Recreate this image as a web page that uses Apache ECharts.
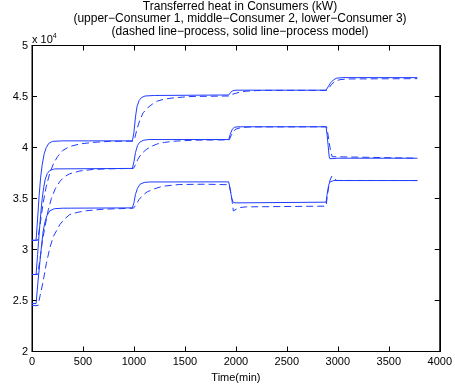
<!DOCTYPE html>
<html>
<head>
<meta charset="utf-8">
<script src="https://cdn.jsdelivr.net/npm/echarts@6/dist/echarts.min.js"></script>
<style>html,body{margin:0;padding:0;background:#fff}#c{width:455px;height:392px}</style>
</head>
<body>
<div id="c"></div>
<script>
// Tick labels
const xTicks = [0, 500, 1000, 1500, 2000, 2500, 3000, 3500, 4000];
const yTickLabels = ['2', '2.5', '3', '3.5', '4', '4.5', '5'];

// Consumer 1 (upper)
const c1Model = [[0,30900],[40,30900],[55,33000],[70,35300],[85,37100],[100,38300],[120,39400],[140,40000],[165,40400],[200,40600],[300,40650],[985,40650],[1000,41500],[1015,43000],[1030,44000],[1050,44600],[1075,44900],[1110,45050],[1200,45100],[1930,45150],[1945,45350],[1965,45550],[2000,45620],[2885,45620],[2905,45950],[2930,46350],[2960,46650],[2990,46800],[3050,46850],[3780,46850]];
const c1Process = [[0,30900],[55,30900],[80,32500],[110,34600],[140,36200],[175,37500],[210,38400],[250,39100],[300,39700],[370,40100],[470,40350],[600,40500],[760,40600],[995,40620],[1010,41000],[1030,41800],[1055,42600],[1090,43400],[1135,43900],[1180,44250],[1230,44550],[1300,44750],[1400,44880],[1560,45000],[1935,45050],[1960,45200],[2000,45320],[2050,45450],[2100,45520],[2200,45580],[2300,45600],[2890,45600],[2910,45800],[2940,46200],[2975,46500],[3020,46650],[3100,46720],[3780,46750]];

// Consumer 2 (middle)
const c2Model = [[0,27550],[40,27550],[55,29500],[70,31500],[85,33400],[100,35000],[115,36100],[130,36900],[150,37450],[175,37750],[220,37900],[985,37950],[1000,38600],[1015,39500],[1035,40200],[1055,40500],[1090,40700],[1140,40780],[1930,40780],[1945,41300],[1965,41800],[1985,41980],[2020,42030],[2885,42030],[2895,41200],[2905,40200],[2915,39100],[2922,38900],[3000,38950],[3780,38950]];
const c2Process = [[0,27550],[55,27550],[75,28800],[100,30700],[130,32400],[160,33900],[190,35000],[230,36000],[275,36700],[320,37150],[370,37420],[470,37700],[600,37850],[760,37910],[995,37950],[1010,38200],[1037,38820],[1070,39350],[1120,39800],[1180,40150],[1232,40360],[1300,40500],[1395,40620],[1600,40720],[1935,40750],[1955,41200],[1975,41600],[2000,41800],[2050,41950],[2150,42020],[2890,42030],[2900,41500],[2915,40500],[2930,39600],[2945,39100],[2960,38950],[3780,38950]];

// Consumer 3 (lower)
const c3Model = [[0,24700],[40,24700],[60,27000],[80,29000],[95,30500],[110,31800],[125,32600],[145,33300],[175,33800],[220,34000],[300,34050],[985,34080],[1000,34600],[1015,35400],[1035,36000],[1060,36400],[1100,36570],[1150,36620],[1930,36630],[1945,35800],[1960,35000],[1975,34600],[2000,34570],[2885,34640],[2895,35400],[2910,36300],[2920,36600],[2960,36760],[3780,36760]];
const c3Process = [[0,24500],[60,24500],[80,25500],[110,26900],[140,28600],[176,30200],[210,31300],[250,32000],[273,32450],[320,33000],[371,33430],[450,33650],[533,33800],[700,33950],[995,34050],[1015,34300],[1050,34900],[1090,35350],[1130,35650],[1200,35950],[1281,36200],[1444,36370],[1700,36400],[1935,36350],[1950,35600],[1965,34600],[1975,33780],[1990,33900],[2030,34100],[2100,34180],[2885,34250],[2900,35500],[2920,36700],[2940,37180],[2960,36950],[2990,36770],[3780,36760]];

const FONT = '"Liberation Sans", Arial, Helvetica, sans-serif';
const BLUE = '#1f3cff';

function solid(name, data) {
  return { name, type: 'line', data, symbol: 'none', smooth: false, animation: false,
    lineStyle: { color: BLUE, width: 1, type: 'solid' }, xAxisIndex: 0, yAxisIndex: 0 };
}
function dashed(name, data) {
  return { name, type: 'line', data, symbol: 'none', smooth: false, animation: false,
    lineStyle: { color: BLUE, width: 1, type: [7, 4] }, xAxisIndex: 0, yAxisIndex: 0 };
}

const chart = echarts.init(document.getElementById('c'), null, { renderer: 'canvas' });
const tick = { show: true, inside: true, length: 5, lineStyle: { color: '#000', width: 1 } };
function line() { return { show: true, onZero: false, lineStyle: { color: '#000', width: 1 } }; }
chart.setOption({
  animation: false,
  backgroundColor: '#fff',
  title: {
    text: 'Transferred heat in Consumers (kW)\n(upper\u2212Consumer 1, middle\u2212Consumer 2, lower\u2212Consumer 3)\n(dashed line\u2212process, solid line\u2212process model)',
    left: 240, top: 0, textAlign: 'center', padding: 0,
    textStyle: { fontFamily: FONT, fontSize: 12, fontWeight: 'normal', color: '#000', lineHeight: 12.5 }
  },
  graphic: [{
    type: 'text', left: 32, top: 33,
    style: {
      text: 'x 10{s|4}', fontFamily: FONT, fontSize: 11, fill: '#000',
      rich: { s: { fontSize: 7, fontFamily: FONT, verticalAlign: 'top', padding: [0, 0, 6, 0] } }
    }
  }],
  grid: { left: 32, right: 13, top: 45.5, bottom: 40.5, containLabel: false,
    show: true, borderColor: '#000', borderWidth: 1, backgroundColor: 'transparent' },
  xAxis: [
    { type: 'value', min: 0, max: 4000, interval: 500, position: 'bottom',
      axisLine: line(), splitLine: { show: false }, axisTick: tick,
      axisLabel: { fontFamily: FONT, fontSize: 11, color: '#000', margin: 5,
        formatter: (v) => String(xTicks[Math.round(v / 500)]) },
      name: 'Time(min)', nameLocation: 'middle', nameGap: 21,
      nameTextStyle: { fontFamily: FONT, fontSize: 11, color: '#000' } },
    { type: 'value', min: 0, max: 4000, interval: 500, position: 'top',
      axisLine: line(), splitLine: { show: false }, axisTick: tick,
      axisLabel: { show: false } }
  ],
  yAxis: [
    { type: 'value', min: 20000, max: 50000, interval: 5000, position: 'left',
      axisLine: line(), splitLine: { show: false }, axisTick: tick,
      axisLabel: { fontFamily: FONT, fontSize: 11, color: '#000', margin: 4,
        formatter: (v) => yTickLabels[Math.round((v - 20000) / 5000)] } },
    { type: 'value', min: 20000, max: 50000, interval: 5000, position: 'right',
      axisLine: line(), splitLine: { show: false }, axisTick: tick,
      axisLabel: { show: false } }
  ],
  series: [
    solid('Consumer 1 model', c1Model), dashed('Consumer 1 process', c1Process),
    solid('Consumer 2 model', c2Model), dashed('Consumer 2 process', c2Process),
    solid('Consumer 3 model', c3Model), dashed('Consumer 3 process', c3Process)
  ]
});
</script>
</body>
</html>
